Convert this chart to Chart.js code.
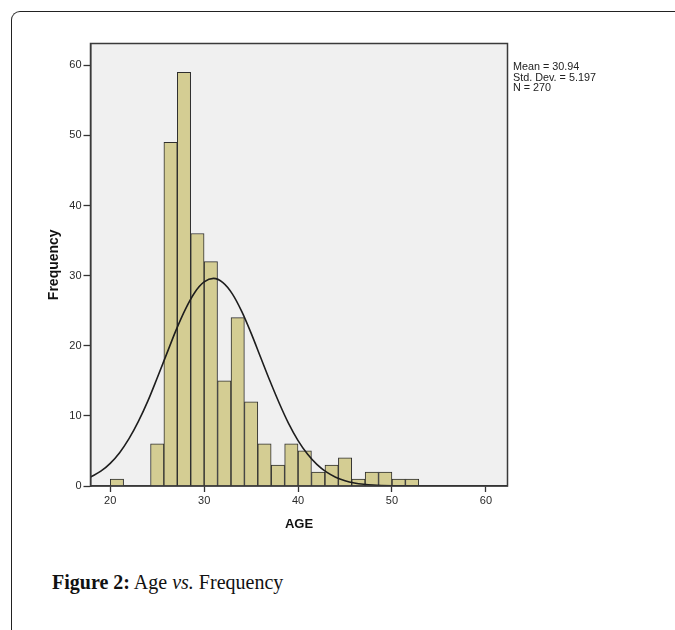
<!DOCTYPE html>
<html>
<head>
<meta charset="utf-8">
<script src="https://cdn.jsdelivr.net/npm/chart.js@4.4.1/dist/chart.umd.min.js"></script>
<style>
  html, body { margin: 0; padding: 0; background: #fff; width: 675px; height: 630px; overflow: hidden; position: relative; }
  #frame { position: absolute; left: 11px; top: 11px; width: 700px; height: 660px; border-top: 1.5px solid #222; border-left: 1.5px solid #222; border-top-left-radius: 9px; box-sizing: border-box; }
  #wrap { position: absolute; left: 0; top: 0; width: 675px; height: 540px; }
  #stats { position: absolute; left: 513px; top: 61px; font-family: Arial, "Liberation Sans", sans-serif; font-size: 10.8px; line-height: 10.5px; color: #222; white-space: nowrap; }
  #caption { position: absolute; left: 52px; top: 571px; font-family: "Liberation Serif", "DejaVu Serif", serif; font-size: 20px; color: #111; white-space: nowrap; }
  #caption b { font-weight: bold; }
</style>
</head>
<body>
<div id="frame"></div>
<div id="wrap"><canvas id="c" width="675" height="540"></canvas></div>
<div id="stats">Mean = 30.94<br>Std. Dev. = 5.197<br>N = 270</div>
<div id="caption"><b>Figure 2:</b> Age <i>vs.</i> Frequency</div>
<script>
// Histogram bins (AGE), bin width 10/7
const binWidth = 10 / 7;
const binStarts = [20.00, 21.43, 22.86, 24.29, 25.71, 27.14, 28.57, 30.00, 31.43, 32.86, 34.29, 35.71, 37.14, 38.57, 40.00, 41.43, 42.86, 44.29, 45.71, 47.14, 48.57, 50.00, 51.43];
const counts    = [1, 0, 0, 6, 49, 59, 36, 32, 15, 24, 12, 6, 3, 6, 5, 2, 3, 4, 1, 2, 2, 1, 1];

// Normal curve
const curveX = [17.9, 19, 20, 21, 22, 23, 24, 25, 26, 27, 28, 29, 30, 31, 32, 33, 34, 35, 36, 37, 38, 39, 40, 41, 42, 43, 44, 45, 46, 47, 48, 50, 52, 55, 58, 62.3];
const curveY = [1.27, 2.11, 3.23, 4.75, 6.75, 9.21, 12.1, 15.4, 18.8, 22.2, 25.2, 27.6, 29.1, 29.6, 29.0, 27.4, 24.9, 21.8, 18.4, 15.0, 11.8, 8.89, 6.47, 4.55, 3.08, 2.01, 1.26, 0.76, 0.44, 0.25, 0.14, 0.04, 0.01, 0, 0, 0];

const xTicks = [20, 30, 40, 50, 60];
const yTicks = [0, 10, 20, 30, 40, 50, 60];

const barData = binStarts.map((s, i) => ({ x: s + binWidth / 2, y: counts[i] }));
const lineData = curveX.map((x, i) => ({ x: x, y: curveY[i] }));

const plotBg = {
  id: 'plotBg',
  beforeDraw(chart) {
    const { ctx, chartArea: a } = chart;
    ctx.save();
    ctx.fillStyle = '#f0f0f0';
    ctx.fillRect(a.left, a.top, a.right - a.left, a.bottom - a.top);
    ctx.restore();
  },
  afterDraw(chart) {
    const { ctx, chartArea: a } = chart;
    ctx.save();
    ctx.strokeStyle = '#3a3a3a';
    ctx.lineWidth = 1.5;
    ctx.strokeRect(a.left, a.top, a.right - a.left, a.bottom - a.top);
    ctx.restore();
  }
};

new Chart(document.getElementById('c'), {
  type: 'bar',
  data: {
    datasets: [
      {
        type: 'line',
        data: lineData,
        borderColor: '#1e1e1e',
        borderWidth: 1.6,
        pointRadius: 0,
        fill: false,
        cubicInterpolationMode: 'monotone',
        order: 0
      },
      {
        type: 'bar',
        data: barData,
        backgroundColor: 'rgb(212, 205, 147)',
        borderColor: '#2e2e2e',
        borderWidth: 1,
        barPercentage: 1,
        categoryPercentage: 1,
        order: 1
      }
    ]
  },
  options: {
    responsive: false,
    animation: false,
    events: [],
    layout: { padding: { left: 0, top: 43.5, right: 167.5, bottom: 0 } },
    plugins: { legend: { display: false }, tooltip: { enabled: false } },
    scales: {
      x: {
        type: 'linear',
        offset: false,
        min: 17.9,
        max: 62.3,
        afterFit(s) { s.height = 54; },
        afterBuildTicks(s) { s.ticks = xTicks.map(v => ({ value: v })); },
        ticks: { autoSkip: false, maxRotation: 0, padding: 2, color: '#2a2a2a', font: { family: 'Arial, "Liberation Sans"', size: 11 } },
        grid: { offset: false, drawOnChartArea: false, drawTicks: true, tickLength: 6, tickColor: '#333', tickWidth: 1.3 },
        border: { display: true, color: '#3a3a3a', width: 1.5 },
        title: { display: true, text: 'AGE', color: '#111', font: { family: 'Arial, "Liberation Sans"', size: 13, weight: 'bold' }, padding: { top: 0, bottom: 8.2 } }
      },
      y: {
        type: 'linear',
        min: 0,
        max: 63.1,
        afterFit(s) { s.width = 90.5; },
        afterBuildTicks(s) { s.ticks = yTicks.map(v => ({ value: v })); },
        ticks: { autoSkip: false, padding: 2, color: '#2a2a2a', font: { family: 'Arial, "Liberation Sans"', size: 11 } },
        grid: { drawOnChartArea: false, drawTicks: true, tickLength: 7, tickColor: '#333', tickWidth: 1.3 },
        border: { display: true, color: '#3a3a3a', width: 1.5 },
        title: { display: true, text: 'Frequency', color: '#111', font: { family: 'Arial, "Liberation Sans"', size: 14, weight: 'bold' }, padding: { top: 46, bottom: 0 } }
      }
    }
  },
  plugins: [plotBg]
});
</script>
</body>
</html>
